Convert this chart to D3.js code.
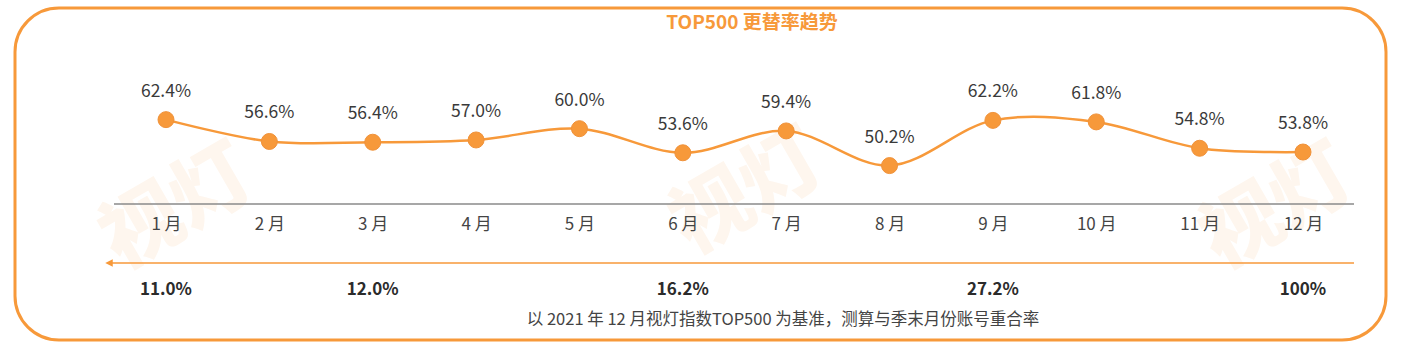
<!DOCTYPE html>
<html>
<head>
<meta charset="utf-8">
<script src="https://cdn.jsdelivr.net/npm/d3@7"></script>
<style>
  body { margin: 0; background: #fff; }
  svg { display: block; font-family: "Noto Sans CJK SC", "Noto Sans", sans-serif; }
</style>
</head>
<body>
<div id="chart"></div>
<script>
// data
var months = ["1 月", "2 月", "3 月", "4 月", "5 月", "6 月", "7 月", "8 月", "9 月", "10 月", "11 月", "12 月"]
var rates = [62.4, 56.6, 56.4, 57.0, 60.0, 53.6, 59.4, 50.2, 62.2, 61.8, 54.8, 53.8]
var overlapMonths = ["1 月", "3 月", "6 月", "9 月", "12 月"]
var overlapLabels = ["11.0%", "12.0%", "16.2%", "27.2%", "100%"]
var title = "TOP500 更替率趋势"
var note = "以 2021 年 12 月视灯指数TOP500 为基准，测算与季末月份账号重合率"

var width = 1401, height = 351
var orange = "#f7993a"

var svg = d3.select("#chart").append("svg")
    .attr("width", width)
    .attr("height", height)

// faint watermark
var wm = svg.append("g").attr("fill", "#fef6ee")
var marks = [[190, 230], [760, 215], [1290, 230]]
marks.forEach(function(m){
    wm.append("text")
        .attr("transform", "translate(" + m[0] + "," + m[1] + ") rotate(-30)")
        .attr("text-anchor", "middle")
        .attr("font-size", 80)
        .attr("font-weight", 900)
        .text("视灯")
})

// rounded frame
svg.append("rect")
    .attr("x", 15).attr("y", 8)
    .attr("width", 1371).attr("height", 332)
    .attr("rx", 44).attr("ry", 44)
    .attr("fill", "none")
    .attr("stroke", orange)
    .attr("stroke-width", 3)

svg.append("text")
    .attr("x", 752).attr("y", 29)
    .attr("text-anchor", "middle")
    .attr("font-size", 19)
    .attr("font-weight", 700)
    .attr("fill", orange)
    .text(title)

var x = d3.scalePoint().domain(months).range([166, 1303])
var y = d3.scaleLinear().domain([40, 70]).range([204, 91])

// month axis
var axis = d3.axisBottom(x).tickSize(0).tickPadding(14)
var gx = svg.append("g")
    .attr("transform", "translate(0,204)")
    .call(axis)
gx.select(".domain").remove()
gx.append("line")
    .attr("x1", 114).attr("x2", 1354)
    .attr("stroke", "#8a8a8a").attr("stroke-width", 1.5)
gx.selectAll(".tick text")
    .attr("font-size", 17)
    .attr("fill", "#444")
    .attr("font-family", "'Noto Sans CJK SC', sans-serif")

// trend line
var line = d3.line()
    .x(function(d, i){ return x(months[i]) })
    .y(function(d){ return y(d) })
    .curve(d3.curveCatmullRom.alpha(0.5))

svg.append("path")
    .datum(rates)
    .attr("d", line)
    .attr("fill", "none")
    .attr("stroke", orange)
    .attr("stroke-width", 2.5)

svg.selectAll(".dot")
    .data(rates).enter()
    .append("circle")
    .attr("class", "dot")
    .attr("cx", function(d, i){ return x(months[i]) })
    .attr("cy", function(d){ return y(d) })
    .attr("r", 8)
    .attr("fill", orange)
    .attr("stroke", "#f0923a")
    .attr("stroke-width", 1)

svg.selectAll(".val")
    .data(rates).enter()
    .append("text")
    .attr("class", "val")
    .attr("x", function(d, i){ return x(months[i]) })
    .attr("y", function(d){ return y(d) - 23 })
    .attr("text-anchor", "middle")
    .attr("font-size", 17.5)
    .attr("fill", "#3a3a3a")
    .text(function(d){ return d.toFixed(1) + "%" })

// arrow pointing left
svg.append("defs").append("marker")
    .attr("id", "arrow")
    .attr("viewBox", "0 0 10 10")
    .attr("refX", 1).attr("refY", 5)
    .attr("markerWidth", 5).attr("markerHeight", 5)
    .attr("orient", "auto-start-reverse")
    .append("path")
    .attr("d", "M0,0 L10,5 L0,10 z")
    .attr("fill", orange)

svg.append("line")
    .attr("x1", 112).attr("x2", 1354)
    .attr("y1", 263).attr("y2", 263)
    .attr("stroke", orange)
    .attr("stroke-width", 1.5)
    .attr("marker-start", "url(#arrow)")

svg.selectAll(".overlap")
    .data(overlapLabels).enter()
    .append("text")
    .attr("class", "overlap")
    .attr("x", function(d, i){ return x(overlapMonths[i]) })
    .attr("y", 295)
    .attr("text-anchor", "middle")
    .attr("font-size", 17)
    .attr("font-weight", 700)
    .attr("fill", "#2b2b2b")
    .text(function(d){ return d })

svg.append("text")
    .attr("x", 783).attr("y", 325)
    .attr("text-anchor", "middle")
    .attr("font-size", 16.5)
    .attr("fill", "#444")
    .text(note)
</script>
</body>
</html>
